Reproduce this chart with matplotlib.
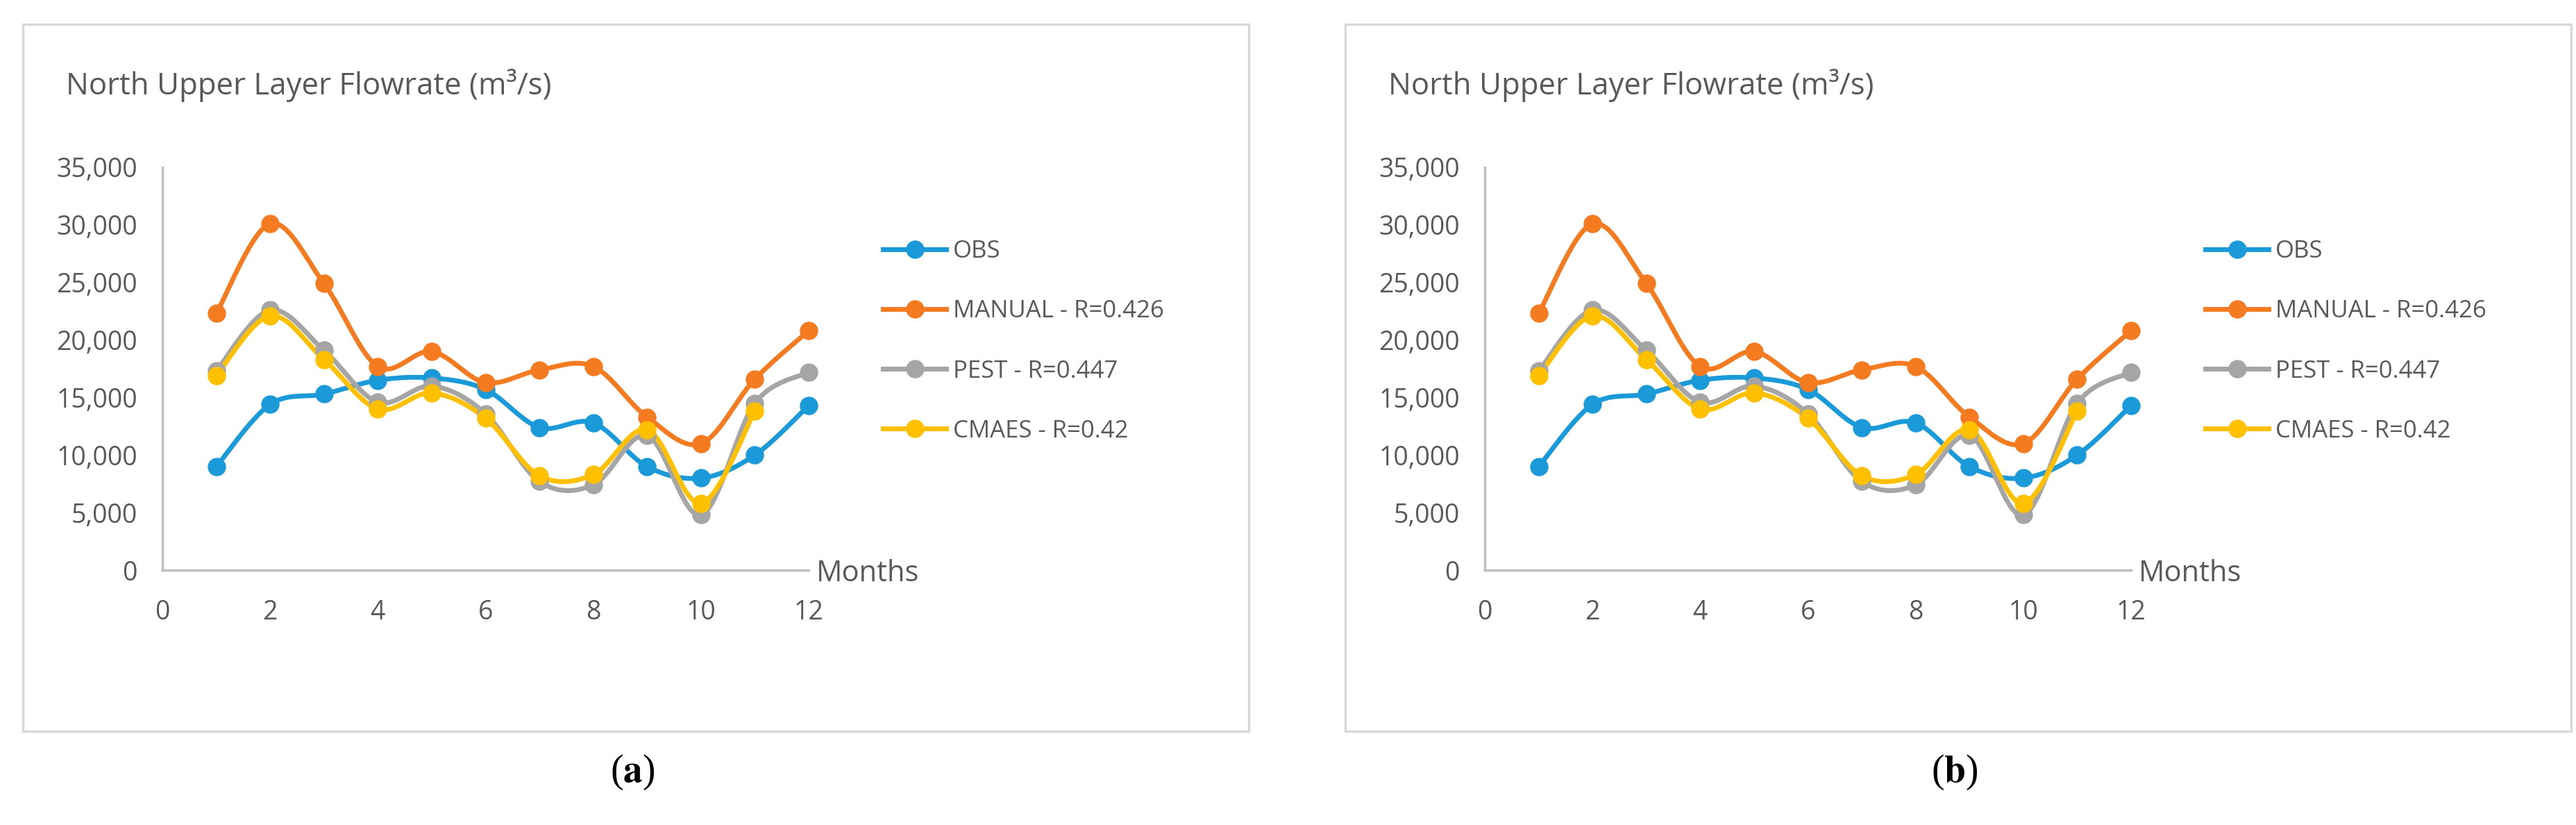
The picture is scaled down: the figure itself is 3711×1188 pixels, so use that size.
import matplotlib.pyplot as plt
import numpy as np
from matplotlib.patches import Rectangle
from matplotlib.lines import Line2D

plt.rcParams['font.family'] = ['Open Sans', 'DejaVu Sans']
plt.rcParams['mathtext.fontset'] = 'stix'

# data (both panels show the same values)
months = [1, 2, 3, 4, 5, 6, 7, 8, 9, 10, 11, 12]
obs = [9000, 14400, 15300, 16500, 16700, 15700, 12400, 12800, 9000, 8000, 10000, 14300]
manual = [22300, 30100, 24900, 17700, 19000, 16300, 17400, 17700, 13300, 11000, 16600, 20800]
pest = [17300, 22600, 19100, 14600, 16000, 13600, 7700, 7400, 11700, 4800, 14500, 17200]
cmaes = [16900, 22100, 18300, 14000, 15400, 13200, 8200, 8300, 12200, 5800, 13800]

series_names = ['OBS', 'MANUAL - R=0.426', 'PEST - R=0.447', 'CMAES - R=0.42']
series_values = [obs, manual, pest, cmaes]
colors = ['#1a9ad8', '#f47b20', '#a5a5a5', '#ffc000']
y_ticks = [0, 5000, 10000, 15000, 20000, 25000, 30000, 35000]
x_ticks = [0, 2, 4, 6, 8, 10, 12]
captions = ['a', 'b']

W, H = 3711, 1188
text_col = '#595959'


def smooth(x, y, n=30):
    # excel-like smoothed line: catmull-rom through the points
    x = np.asarray(x, float)
    y = np.asarray(y, float)
    xs, ys = [x[0]], [y[0]]
    for i in range(len(x) - 1):
        p0 = np.array([x[max(i - 1, 0)], y[max(i - 1, 0)]])
        p1 = np.array([x[i], y[i]])
        p2 = np.array([x[i + 1], y[i + 1]])
        p3 = np.array([x[min(i + 2, len(x) - 1)], y[min(i + 2, len(x) - 1)]])
        c1 = p1 + (p2 - p0) / 6
        c2 = p2 - (p3 - p1) / 6
        t = np.linspace(0, 1, n)[1:, None]
        pts = ((1 - t) ** 3) * p1 + 3 * ((1 - t) ** 2) * t * c1 + 3 * (1 - t) * t ** 2 * c2 + t ** 3 * p2
        xs.extend(pts[:, 0])
        ys.extend(pts[:, 1])
    return np.array(xs), np.array(ys)


fig = plt.figure(figsize=(W / 100, H / 100), dpi=100)

for k, cap in enumerate(captions):
    off = 1905 * k
    # outer chart frame
    fig.patches.append(Rectangle(((off + 33) / W, (H - 1053) / H),
                                 (1799 - 33) / W, (1053 - 35) / H, transform=fig.transFigure,
                                 facecolor='none', edgecolor='#d9d9d9', linewidth=2.5, zorder=-1))

    ax = fig.add_axes([(off + 234) / W, (H - 821) / H, (1165 - 234) / W, (821 - 241) / H])
    ax.set_zorder(2)
    for name, vals, c in zip(series_names, series_values, colors):
        xv = months[:len(vals)]
        sx, sy = smooth(xv, vals)
        ax.plot(sx, sy, color=c, lw=5, solid_capstyle='round', zorder=3, clip_on=False)
        ax.plot(xv, vals, 'o', color=c, ms=18, zorder=4, clip_on=False)

    ax.set_xlim(0, 12)
    ax.set_ylim(0, 35000)
    ax.set_xticks(x_ticks)
    ax.set_yticks(y_ticks)
    ax.set_yticklabels([f'{v:,}' for v in y_ticks])
    ax.tick_params(length=0, labelsize=27, colors=text_col)
    ax.tick_params(axis='y', pad=26)
    ax.tick_params(axis='x', pad=30)
    for s in ['top', 'right']:
        ax.spines[s].set_visible(False)
    for s in ['left', 'bottom']:
        ax.spines[s].set_color('#bfbfbf')
        ax.spines[s].set_linewidth(2.5)
    ax.patch.set_alpha(0)

    fig.text((off + 95) / W, (H - 123) / H, 'North Upper Layer Flowrate (m³/s)',
             fontsize=31.5, color=text_col, va='center', ha='left')
    fig.text((off + 1176) / W, (H - 826) / H, 'Months', fontsize=30,
             color=text_col, va='center', ha='left')

    handles = [Line2D([], [], color=c, lw=5, marker='o', ms=18) for c in colors]
    ax.legend(handles, series_names, loc='upper left',
              bbox_to_anchor=((off + 1255) / W, (H - 328) / H), bbox_transform=fig.transFigure,
              frameon=False, fontsize=25, labelcolor=text_col, handlelength=2.6,
              handletextpad=0.3, labelspacing=1.5, borderpad=0)

    fig.text((off + 911) / W, (H - 1112) / H, r'($\mathbf{' + cap + '}$)', fontsize=40,
             family='Liberation Serif', color='black', ha='center', va='center')

fig.savefig('out.png', dpi=100, facecolor='white')
